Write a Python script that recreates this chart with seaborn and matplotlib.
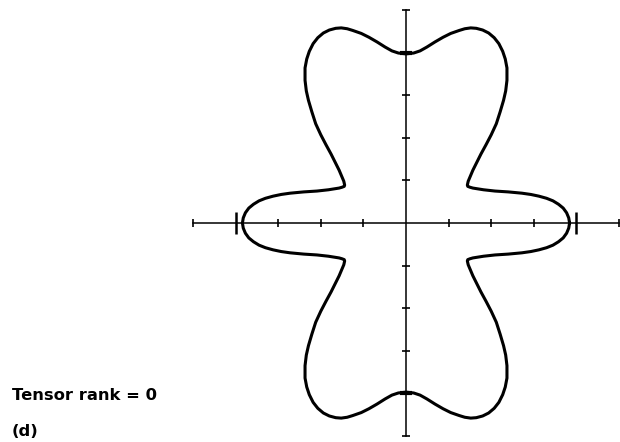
import numpy as np
import pandas as pd
import matplotlib
matplotlib.use("Agg")
import matplotlib.pyplot as plt
import seaborn as sns

# Outline of the surface in the first quadrant (theta from 0 to 90 degrees)
quad_x = [3.84, 3.82, 3.77, 3.69, 3.58, 3.45, 3.30, 3.12, 2.93, 2.72, 2.40, 2.09,
          1.82, 1.57, 1.50, 1.45, 1.44, 1.46, 1.51, 1.57, 1.69, 1.76, 1.88, 2.00,
          2.12, 2.21, 2.29, 2.34, 2.37, 2.37, 2.33, 2.27, 2.18, 2.07, 1.94, 1.80,
          1.65, 1.52, 1.38, 1.25, 1.05, 0.87, 0.68, 0.49, 0.33, 0.18, 0.00]
quad_y = [0.00, 0.12, 0.24, 0.35, 0.44, 0.52, 0.58, 0.63, 0.67, 0.70, 0.73, 0.75,
          0.78, 0.82, 0.84, 0.86, 0.89, 0.98, 1.10, 1.24, 1.48, 1.62, 1.84, 2.07,
          2.33, 2.61, 2.88, 3.10, 3.35, 3.64, 3.85, 4.03, 4.21, 4.35, 4.46, 4.53,
          4.57, 4.58, 4.56, 4.52, 4.45, 4.36, 4.25, 4.13, 4.04, 3.99, 3.97]

axis_extent = 5
small_ticks = [-5, -3, -2, -1, 1, 2, 3, 5]
big_ticks = [-4, 4]
caption = "Tensor rank = 0"
panel = "(d)"

# Build the closed outline from the symmetric quadrant
qx = np.array(quad_x)
qy = np.array(quad_y)
xs = np.concatenate([qx, -qx[::-1], -qx, qx[::-1]])
ys = np.concatenate([qy, qy[::-1], -qy, -qy[::-1]])
outline = pd.DataFrame({"x": xs, "y": ys, "order": np.arange(len(xs))})

sns.set_theme(style="white")
plt.rcParams["font.family"] = ["DejaVu Sans"]

W, H = 620, 442
cx, cy, unit = 406, 223, 42.6
fig = plt.figure(figsize=(W / 100, H / 100), dpi=100)
ax = fig.add_axes([0, 0, 1, 1])
ax.set_xlim(-cx / unit, (W - cx) / unit)
ax.set_ylim(-(H - cy) / unit, cy / unit)
ax.set_facecolor("white")

sns.lineplot(data=outline, x="x", y="y", sort=False, estimator=None,
             color="black", linewidth=2.2, ax=ax)
ax.lines[-1].set_solid_joinstyle("round")

# Cross-shaped axes through the origin
for name in ("top", "right"):
    ax.spines[name].set_visible(False)
for name in ("left", "bottom"):
    sp = ax.spines[name]
    sp.set_visible(True)
    sp.set_position(("data", 0))
    sp.set_bounds(-axis_extent, axis_extent)
    sp.set_color("black")
    sp.set_linewidth(1.1)

ax.set_xticks(small_ticks)
ax.set_yticks(small_ticks)
ax.set_xticks(big_ticks, minor=True)
ax.set_yticks(big_ticks, minor=True)
ax.set_xticklabels([])
ax.set_yticklabels([])
ax.tick_params(axis="both", which="major", direction="inout", length=5.5,
               width=1.2, color="black", bottom=True, left=True)
ax.tick_params(axis="x", which="minor", direction="inout", length=16,
               width=1.8, color="black", bottom=True)
ax.tick_params(axis="y", which="minor", direction="inout", length=9,
               width=3, color="black", left=True)
ax.set_xlabel("")
ax.set_ylabel("")
ax.grid(False)

fig.text(12 / W, 1 - 396 / H, caption, fontsize=11.8, fontweight="bold",
         ha="left", va="center", color="black")
fig.text(12 / W, 1 - 431 / H, panel, fontsize=11.8, fontweight="bold",
         ha="left", va="center", color="black")

fig.savefig("out.png", dpi=100, facecolor="white")
